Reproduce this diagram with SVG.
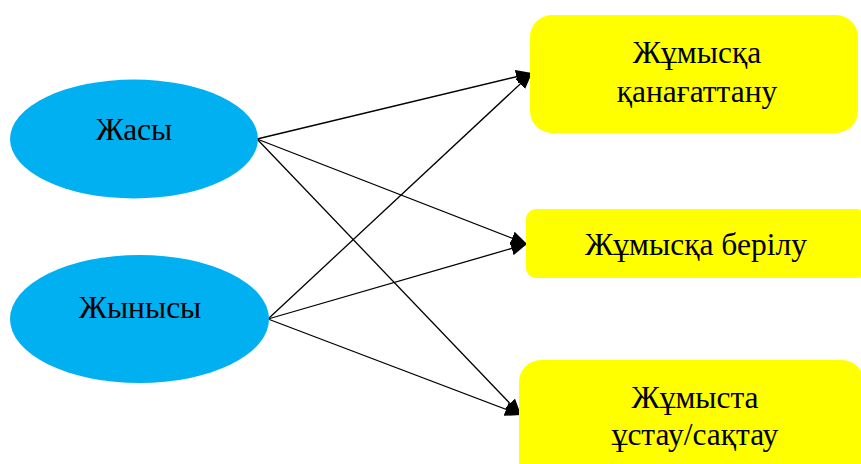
<svg xmlns="http://www.w3.org/2000/svg" width="861" height="464" viewBox="0 0 861 464">
<style>
.ell{fill:#00B0F0;}
.box{fill:#FFFF00;}
.t{font-family:"Liberation Serif","Times New Roman",serif;font-size:31.5px;fill:#000;text-anchor:middle;}
.c{stroke:#000;stroke-width:1.3;fill:none;marker-end:url(#ah);}
</style>
<defs>
<marker id="ah" markerUnits="userSpaceOnUse" markerWidth="18" markerHeight="14" refX="16" refY="7" orient="auto">
<path d="M0,0 L16,7 L0,14 Z" fill="#000"/>
</marker>
</defs>
<rect width="861" height="464" fill="#fff"/>
<g id="connectors">
<line class="c" x1="257" y1="139" x2="532" y2="73"/>
<line class="c" x1="257" y1="139" x2="527" y2="244"/>
<line class="c" x1="257" y1="139" x2="521" y2="415"/>
<line class="c" x1="268" y1="319" x2="532" y2="73"/>
<line class="c" x1="268" y1="319" x2="527" y2="244"/>
<line class="c" x1="268" y1="319" x2="521" y2="415"/>
</g>
<g id="zhasy">
<ellipse class="ell" cx="134" cy="139" rx="124" ry="59.5"/>
<text class="t" x="134" y="140">Жасы</text>
</g>
<g id="zhynysy">
<ellipse class="ell" cx="139.5" cy="319" rx="129.5" ry="64"/>
<text class="t" x="140" y="318">Жынысы</text>
</g>
<g id="qanagattanu">
<rect class="box" x="530" y="15" width="328" height="118" rx="22"/>
<text class="t" x="697" y="63">Жұмысқа</text>
<text class="t" x="697" y="102">қанағаттану</text>
</g>
<g id="berilu">
<rect class="box" x="526" y="209" width="340" height="69" rx="10"/>
<text class="t" x="696" y="255">Жұмысқа берілу</text>
</g>
<g id="ustau">
<rect class="box" x="519" y="360" width="345" height="130" rx="22"/>
<text class="t" x="695" y="408">Жұмыста</text>
<text class="t" x="695" y="445">ұстау/сақтау</text>
</g>
</svg>
